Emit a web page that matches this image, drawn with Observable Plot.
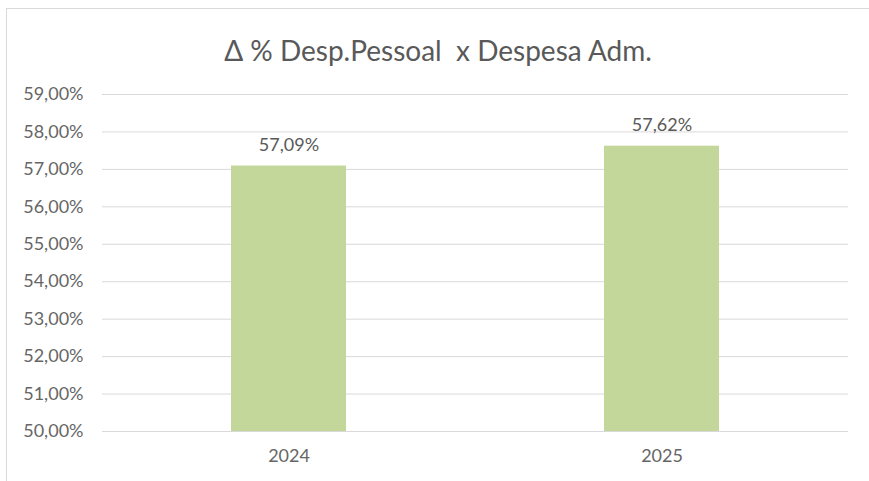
<!DOCTYPE html>
<html>
<head>
<meta charset="utf-8">
<script src="https://cdn.jsdelivr.net/npm/d3@7"></script>
<script src="https://cdn.jsdelivr.net/npm/@observablehq/plot@0.6"></script>
<style>
  html, body { margin: 0; padding: 0; background: #fff; }
  body { width: 869px; height: 481px; overflow: hidden; position: relative; font-family: Lato, "Open Sans", sans-serif; }
  #frame { position: absolute; left: 6px; top: 8px; width: 863px; height: 473px; border-left: 1px solid #d9d9d9; border-top: 1px solid #d9d9d9; box-sizing: border-box; }
  #title { height: 70px; padding-top: 23px; box-sizing: border-box; line-height: 36px; text-align: center; font-size: 28px; color: #595959; white-space: pre; }
  svg { display: block; }
</style>
</head>
<body>
<div id="frame">
  <div id="title">Δ % Desp.Pessoal  x Despesa Adm.</div>
  <div id="chart"></div>
</div>
<script>
const categories = ["2024", "2025"];
const values = [57.09, 57.62];
const yTicks = [50, 51, 52, 53, 54, 55, 56, 57, 58, 59];

const data = categories.map((c, i) => ({ year: c, value: values[i] }));
const fmt = d => d.toFixed(2).replace(".", ",") + "%";

const chart = Plot.plot({
  width: 862,
  height: 402,
  marginLeft: 95,
  marginRight: 21,
  marginTop: 15,
  marginBottom: 50,
  style: { fontFamily: "Lato, 'Open Sans', sans-serif", fontSize: "18px", color: "#666666", background: "transparent" },
  x: { type: "band", domain: categories, padding: 0, label: null, tickSize: 0, tickPadding: 18 },
  y: { domain: [50, 59], ticks: yTicks, tickFormat: fmt, label: null, tickSize: 0, tickPadding: 19 },
  marks: [
    Plot.ruleY(yTicks, { stroke: "#d9d9d9", strokeWidth: 1 }),
    Plot.barY(data, { x: "year", y1: 50, y2: "value", fill: "#c4d79b", insetLeft: 129, insetRight: 129 }),
    Plot.text(data, { x: "year", y: "value", text: d => fmt(d.value), dy: -21, fill: "#595959", fontSize: 18 })
  ]
});
document.getElementById("chart").appendChild(chart);
</script>
</body>
</html>
